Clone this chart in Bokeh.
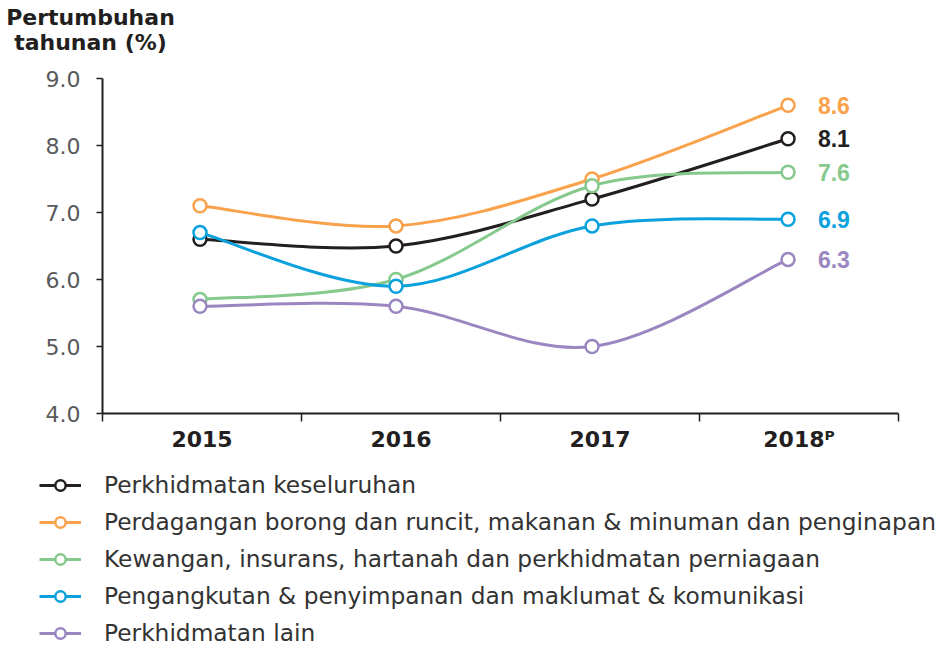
from bokeh.plotting import figure
from bokeh.models import (FixedTicker, Legend, LegendItem, Label, ColumnDataSource,
                          Range1d)
from bokeh.core.properties import value
from bokeh.embed import file_html
from bokeh.resources import INLINE

# ---------------- data ----------------
years = ["2015", "2016", "2017", "2018\u1d3e"]
names = [
    "Perkhidmatan keseluruhan",
    "Perdagangan borong dan runcit, makanan & minuman dan penginapan",
    "Kewangan, insurans, hartanah dan perkhidmatan perniagaan",
    "Pengangkutan & penyimpanan dan maklumat & komunikasi",
    "Perkhidmatan lain",
]
overall = [6.6, 6.5, 7.2, 8.1]
trade = [7.1, 6.8, 7.5, 8.6]
finance = [5.7, 6.0, 7.4, 7.6]
transport = [6.7, 5.9, 6.8, 6.9]
other = [5.6, 5.6, 5.0, 6.3]
series = [overall, trade, finance, transport, other]
colors = ["#231f20", "#f9a24b", "#86c98c", "#0ba1dd", "#9b86c1"]
y_ticks = [4, 5, 6, 7, 8, 9]

# ---------------- layout constants (pixels) ----------------
W, H = 944, 646
FL, FR, FT, FB = 102, 898, 78, 413      # plot area edges on the canvas
n = len(years)
ymin, ymax = y_ticks[0], y_ticks[-1]
xpx = (FR - FL) / n
ypx = (FB - FT) / (ymax - ymin)

# x positions of the points inside each year band
xpos = [i * 0.985 + 0.49 for i in range(n)]


def bezier_cols(xs, ys):
    px = [xs[0]] + list(xs) + [xs[-1]]
    py = [ys[0]] + list(ys) + [ys[-1]]
    d = dict(x0=[], y0=[], x1=[], y1=[], cx0=[], cy0=[], cx1=[], cy1=[])
    for i in range(len(xs) - 1):
        x0, y0 = px[i + 1], py[i + 1]
        x1, y1 = px[i + 2], py[i + 2]
        d["x0"].append(x0); d["y0"].append(y0)
        d["x1"].append(x1); d["y1"].append(y1)
        d["cx0"].append(x0 + (x1 - px[i]) / 6.0)
        d["cy0"].append(y0 + (y1 - py[i]) / 6.0)
        d["cx1"].append(x1 - (px[i + 3] - x0) / 6.0)
        d["cy1"].append(y1 - (py[i + 3] - y0) / 6.0)
    return d


p = figure(width=W, height=H,
           x_range=Range1d(-FL / xpx, n + (W - FR) / xpx),
           y_range=Range1d(ymin - (H - FB) / ypx, ymax + FT / ypx),
           output_backend="svg", toolbar_location=None,
           min_border=0, min_border_left=0, min_border_right=0,
           min_border_top=0, min_border_bottom=0)
p.outline_line_color = None
p.xgrid.visible = False
p.ygrid.visible = False

AX = "#231f20"
# x axis
xa = p.xaxis[0]
xa.fixed_location = ymin
xa.bounds = (0, n)
xa.ticker = FixedTicker(ticks=[i + 0.5 for i in range(n)],
                        minor_ticks=list(range(n + 1)))
xa.major_label_overrides = {i + 0.5: y for i, y in enumerate(years)}
xa.major_tick_line_color = None
xa.major_tick_out = 0
xa.major_tick_in = 0
xa.minor_tick_out = 8
xa.minor_tick_in = 0
xa.minor_tick_line_color = AX
xa.minor_tick_line_width = 1.5
xa.axis_line_color = AX
xa.axis_line_width = 2
xa.major_label_standoff = 5
xa.major_label_text_font = "DejaVu Sans"
xa.major_label_text_font_style = "bold"
xa.major_label_text_font_size = "22px"
xa.major_label_text_color = AX

# y axis
ya = p.yaxis[0]
ya.fixed_location = 0
ya.bounds = (ymin, ymax)
ya.ticker = FixedTicker(ticks=y_ticks, minor_ticks=[])
ya.major_label_overrides = {t: "%.1f" % t for t in y_ticks}
ya.major_tick_out = 6
ya.major_tick_in = 0
ya.major_tick_line_color = AX
ya.major_tick_line_width = 1.5
ya.axis_line_color = AX
ya.axis_line_width = 2
ya.major_label_standoff = 16
ya.major_label_text_font = "DejaVu Sans"
ya.major_label_text_font_size = "22px"
ya.major_label_text_color = "#58595b"

items = []
for name, vals, col in zip(names, series, colors):
    src = ColumnDataSource(bezier_cols(xpos, vals))
    br = p.bezier(x0="x0", y0="y0", x1="x1", y1="y1", cx0="cx0", cy0="cy0",
                  cx1="cx1", cy1="cy1", source=src, line_color=col, line_width=3)
    sr = p.scatter(xpos, vals, marker="circle", size=13, fill_color="white",
                   line_color=col, line_width=2.5)
    items.append(LegendItem(label=name, renderers=[br, sr]))

for vals, col in zip(series, colors):
    p.text(x=[xpos[-1] + 0.15], y=[vals[-1]], text=["%.1f" % vals[-1]],
           text_font=value("Liberation Sans"), text_font_style="bold",
           text_font_size="23px", text_baseline="middle", text_align="left",
           text_color=col)

legend = Legend(items=items, location=(39, 0), orientation="vertical",
                glyph_width=42, glyph_height=26, label_height=26, spacing=10,
                padding=0, margin=0, border_line_color=None,
                background_fill_alpha=0, label_standoff=23,
                label_text_font="DejaVu Sans", label_text_font_size="23.3px",
                label_text_color="#333333")
p.add_layout(legend, "center")

title = Label(x=(90 - FL) / xpx, y=ymax + (FT - 4) / ypx,
              text="Pertumbuhan\ntahunan (%)",
              text_align="center", text_baseline="top",
              text_font="DejaVu Sans", text_font_style="bold",
              text_font_size="22px", text_color=AX, text_line_height=1.0)
p.add_layout(title)

open("out.html", "w").write(file_html(p, INLINE))
